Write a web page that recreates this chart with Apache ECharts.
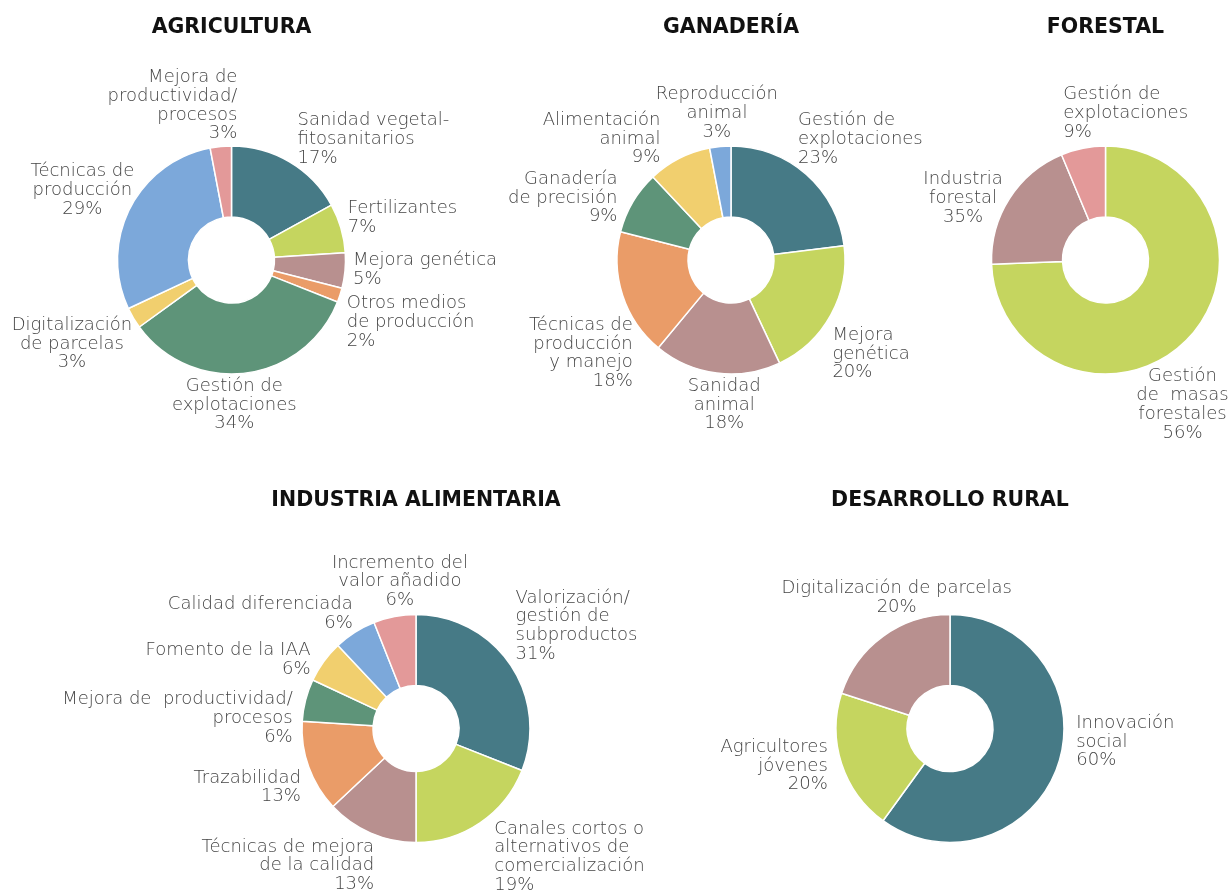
<!DOCTYPE html>
<html><head><meta charset="utf-8">
<script src="https://cdn.jsdelivr.net/npm/echarts@6/dist/echarts.min.js"></script>
<style>html,body{margin:0;padding:0;background:#fff}#c{width:1231px;height:892px}</style>
</head><body><div id="c"></div>
<script>
// ---------------- data ----------------
const titles = ['AGRICULTURA', 'GANADERÍA', 'FORESTAL', 'INDUSTRIA ALIMENTARIA', 'DESARROLLO RURAL'];

const agriNames = ['Sanidad vegetal-\nfitosanitarios', 'Fertilizantes', 'Mejora genética', 'Otros medios\nde producción',
  'Gestión de\nexplotaciones', 'Digitalización\nde parcelas', 'Técnicas de\nproducción', 'Mejora de\nproductividad/\nprocesos'];
const agriValues = [17, 7, 5, 2, 34, 3, 29, 3];

const ganaNames = ['Gestión de\nexplotaciones', 'Mejora\ngenética', 'Sanidad\nanimal', 'Técnicas de\nproducción\ny manejo',
  'Ganadería\nde precisión', 'Alimentación\nanimal', 'Reproducción\nanimal'];
const ganaValues = [23, 20, 18, 18, 9, 9, 3];

const foreNames = ['Gestión\nde  masas\nforestales', 'Industria\nforestal', 'Gestión de\nexplotaciones'];
const foreValues = [74.4, 19.3, 6.3];   // slice sizes as drawn in the picture
const forePct = [56, 35, 9];            // percentages printed on the labels

const indNames = ['Valorización/\ngestión de\nsubproductos', 'Canales cortos o\nalternativos de\ncomercialización',
  'Técnicas de mejora\nde la calidad', 'Trazabilidad', 'Mejora de  productividad/\nprocesos', 'Fomento de la IAA',
  'Calidad diferenciada', 'Incremento del\nvalor añadido'];
const indValues = [31, 19, 13, 13, 6, 6, 6, 6];

const rurNames = ['Innovación\nsocial', 'Agricultores\njóvenes', 'Digitalización de parcelas'];
const rurValues = [60, 20, 20];

// ---------------- styling / layout ----------------
const C = {teal:'#467A86', lime:'#C5D55F', mauve:'#B8908F', orange:'#EA9C68', green:'#5E9479',
           yellow:'#F1CF6E', blue:'#7CA8DA', pink:'#E39999'};
const palette = [C.teal, C.lime, C.mauve, C.orange, C.green, C.yellow, C.blue, C.pink];
const R0 = 43, R1 = 114;

// label placement: [align, nudge x, nudge y] relative to the point just outside the slice middle
const panels = [
  {title: titles[0], names: agriNames, values: agriValues, pct: agriValues, center: [231.5, 260], colors: palette, titleTop: 18,
   lab: [['left',6,-19],['left',3,-9],['left',4,-1],['left',3,26],['center',-12,28],['center',-58,24],['center',-44,-16],['right',17,-37]]},
  {title: titles[1], names: ganaNames, values: ganaValues, pct: ganaValues, center: [731, 260], colors: palette, titleTop: 18,
   lab: [['left',-11,-32],['left',-2,37],['center',8,28],['right',14,57],['right',-12,-2],['right',-17,-16],['center',-3,-29]]},
  {title: titles[2], names: foreNames, values: foreValues, pct: forePct, center: [1105.5, 260], colors: [C.lime, C.mauve, C.pink], titleTop: 18,
   lab: [['center',-8,63],['center',-43,2],['left',-19,-31]]},
  {title: titles[3], names: indNames, values: indValues, pct: indValues, center: [416, 728.5], colors: palette, titleTop: 491,
   lab: [['left',2,-36],['left',12,31],['right',5,29],['right',-4,19],['right',-9,19],['right',-10,1],['right',0,-15],['center',6,-31]]},
  {title: titles[4], names: rurNames, values: rurValues, pct: rurValues, center: [950, 728.5], colors: palette, titleTop: 491,
   lab: [['left',14,-23],['right',-10,1],['center',16,-35]]}
];

function makeLayout(p) {
  const total = p.values.reduce((a, b) => a + b, 0);
  const mids = []; let acc = 0;
  p.values.forEach(v => { mids.push((acc + v / 2) / total * 2 * Math.PI); acc += v; });
  return function (params) {
    const i = params.dataIndex;
    const a = mids[i];
    const px = p.center[0] + (R1 + 4) * Math.sin(a);
    const py = p.center[1] - (R1 + 4) * Math.cos(a);
    const L = p.lab[i];
    return {x: px + L[1], y: py + L[2], align: L[0], verticalAlign: 'middle'};
  };
}

const chart = echarts.init(document.getElementById('c'), null, {renderer: 'canvas'});
chart.setOption({
  backgroundColor: '#fff',
  animation: false,
  title: panels.map(p => ({
    text: p.title, left: p.center[0], top: p.titleTop, textAlign: 'center', padding: 0,
    textStyle: {fontFamily: 'DejaVu Sans', fontWeight: 'bold', fontSize: 20.5, lineHeight: 20, color: '#111'}
  })),
  series: panels.map(p => ({
    type: 'pie', center: p.center, radius: [R0, R1], startAngle: 90, clockwise: true,
    avoidLabelOverlap: false, silent: true,
    data: p.names.map((n, i) => ({name: n, value: p.values[i], itemStyle: {color: p.colors[i]}})),
    itemStyle: {borderColor: '#fff', borderWidth: 1.5},
    label: {
      show: true, position: 'outside', overflow: 'none',
      formatter: pp => pp.name + '\n' + p.pct[pp.dataIndex] + '%',
      fontFamily: 'DejaVu Sans', fontWeight: 200, fontSize: 18, lineHeight: 18.7, color: '#454545'
    },
    labelLine: {show: false},
    labelLayout: makeLayout(p),
    emphasis: {disabled: true}
  }))
});
</script></body></html>
